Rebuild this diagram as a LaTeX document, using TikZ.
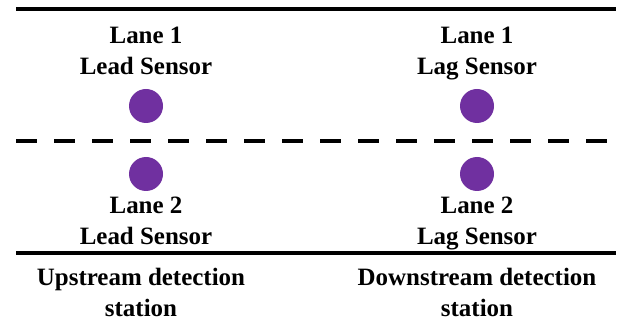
\documentclass[tikz,border=0pt]{standalone}
\usepackage{fontspec}
\setmainfont{Liberation Serif}
\usetikzlibrary{positioning}
\definecolor{sensorpurple}{HTML}{7030A0}

\begin{document}
\begin{tikzpicture}[scale=1,
        sensor/.style={fill=sensorpurple,circle,minimum size=0.68cm,inner sep=0pt},
        lbl/.style={align=center,inner sep=0pt,text depth=0.1cm,font=\bfseries\fontsize{14.2}{17.6}\selectfont},
        road/.style={line width=2.3pt},
        lanediv/.style={line width=2.8pt,dash pattern=on 0.42cm off 0.34cm}]
        \useasboundingbox (0,0) rectangle (12.54,6.44);
        \coordinate (T1) at (0.32,6.26);
        \coordinate (T2) at (12.32,6.26);
        \coordinate (M1) at (0.32,3.62);
        \coordinate (M2) at (12.34,3.62);
        \coordinate (B1) at (0.32,1.38);
        \coordinate (B2) at (12.32,1.38);
        \draw[road] (T1) -- (T2);
        \draw[lanediv] (M1) -- (M2);
        \draw[road] (B1) -- (B2);
        \node[sensor] (S11) at (2.92,4.32) {};
        \node[sensor] (S12) at (9.54,4.32) {};
        \node[sensor] (S21) at (2.92,2.96) {};
        \node[sensor] (S22) at (9.54,2.96) {};
        \node[lbl] (L11) at (2.92,5.38) {Lane 1\\Lead Sensor};
        \node[lbl] (L12) at (9.54,5.38) {Lane 1\\Lag Sensor};
        \node[lbl] (L21) at (2.92,1.98) {Lane 2\\Lead Sensor};
        \node[lbl] (L22) at (9.54,1.98) {Lane 2\\Lag Sensor};
        \node[lbl] (UP) at (2.82,0.54) {Upstream detection\\station};
        \node[lbl] (DN) at (9.54,0.54) {Downstream detection\\station};
    \end{tikzpicture}
\end{document}
